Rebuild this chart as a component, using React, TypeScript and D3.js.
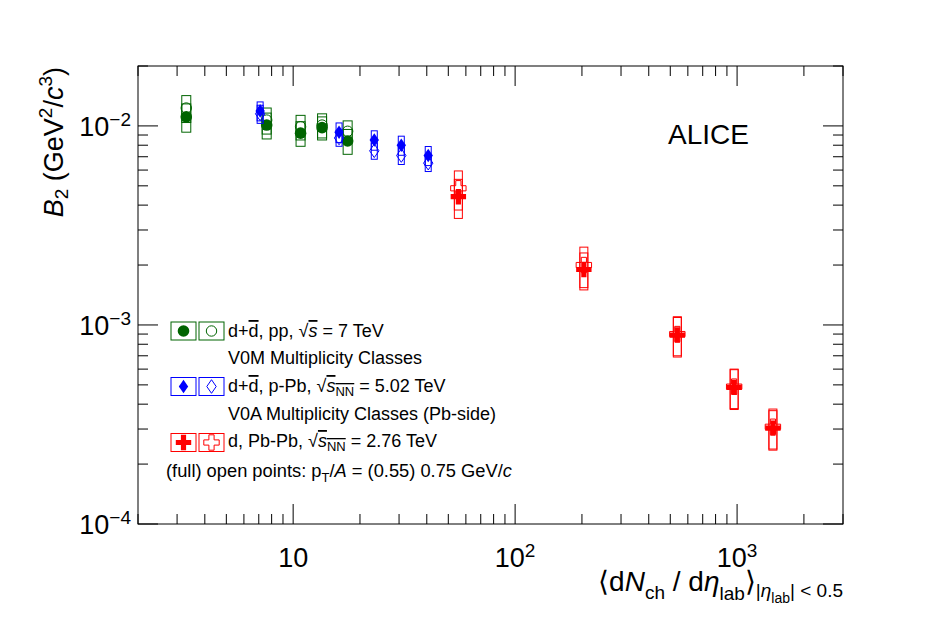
import * as d3 from 'd3';

// pp, sqrt(s) = 7 TeV (V0M classes)
const ppMult = [3.3, 7.6, 10.8, 13.5, 17.6];
const ppB2 = [0.0111, 0.0101, 0.0092, 0.0098, 0.0084];
const ppB2Sys = [0.0018, 0.0015, 0.0013, 0.0013, 0.0012];
const ppB2Open = [0.0123, 0.0107, 0.0099, 0.0101, 0.0094];
const ppB2OpenSys = [0.0019, 0.0016, 0.0014, 0.0014, 0.0012];

// p-Pb, sqrt(sNN) = 5.02 TeV (V0A classes)
const pPbMult = [7.1, 16.1, 23.2, 30.7, 40.6];
const pPbB2 = [0.0119, 0.0093, 0.0085, 0.0080, 0.0071];
const pPbB2Sys = [0.0013, 0.00105, 0.00095, 0.00088, 0.00078];
const pPbB2Open = [0.0115, 0.0087, 0.0075, 0.0071, 0.0065];
const pPbB2OpenSys = [0.0012, 0.0008, 0.0007, 0.0007, 0.0006];

// Pb-Pb, sqrt(sNN) = 2.76 TeV
const PbPbMult = [55.5, 204, 538, 970, 1450];
const PbPbB2 = [0.00441, 0.0019, 0.00089, 0.000486, 0.000303];
const PbPbB2Sys = [0.00098, 0.0004, 0.0002, 0.00011, 0.000068];
const PbPbB2Open = [0.00486, 0.002, 0.0009, 0.00049, 0.000308];
const PbPbB2OpenSys = [0.00108, 0.00046, 0.0002, 0.00011, 0.00007];

const xMajorTicks = [10, 100, 1000];
const xMajorLabels = [['10', ''], ['10', '2'], ['10', '3']];
const yMajorTicks = [1e-2, 1e-3, 1e-4];
const yMajorLabels = [['10', '\u22122'], ['10', '\u22123'], ['10', '\u22124']];

const W = 946;
const H = 622;
const FL = 138, FR = 843, FT = 66, FB = 524;
const FONT = "'Liberation Sans', Arial, Helvetica, sans-serif";

const GREEN = '#006400';
const BLUE = '#0000ff';
const RED = '#ff0000';

const x = d3.scaleLog().domain([2, 3000]).range([FL, FR]);
const y = d3.scaleLog().domain([1e-4, 0.02]).range([FB, FT]);

type Kind = 'circle' | 'diamond' | 'cross';

function Marker({ kind, cx, cy, color, open }: { kind: Kind; cx: number; cy: number; color: string; open: boolean }) {
  const fill = open ? 'none' : color;
  const stroke = open ? color : 'none';
  if (kind === 'circle') {
    return <circle cx={cx} cy={cy} r={open ? 5.2 : 5.8} fill={fill} stroke={stroke} strokeWidth={1} />;
  }
  if (kind === 'diamond') {
    const hw = 4.7, hh = 6.8;
    const d = `M${cx},${cy - hh}L${cx + hw},${cy}L${cx},${cy + hh}L${cx - hw},${cy}Z`;
    return <path d={d} fill={fill} stroke={stroke} strokeWidth={1} />;
  }
  const a = 7.7, t = 2.6;
  const d = `M${cx - t},${cy - a}H${cx + t}V${cy - t}H${cx + a}V${cy + t}H${cx + t}V${cy + a}H${cx - t}V${cy + t}H${cx - a}V${cy - t}H${cx - t}Z`;
  return <path d={d} fill={fill} stroke={stroke} strokeWidth={1} />;
}

function Series({ mult, vals, sys, openVals, openSys, kind, color, hw }: {
  mult: number[]; vals: number[]; sys: number[]; openVals: number[]; openSys: number[];
  kind: Kind; color: string; hw: number;
}) {
  return (
    <g>
      {mult.map((m, i) => (
        <rect key={'os' + i} x={x(m) - hw} width={2 * hw}
          y={y(openVals[i] + openSys[i])} height={y(openVals[i] - openSys[i]) - y(openVals[i] + openSys[i])}
          fill="none" stroke={color} strokeWidth={1} />
      ))}
      {mult.map((m, i) => (
        <rect key={'fs' + i} x={x(m) - hw} width={2 * hw}
          y={y(vals[i] + sys[i])} height={y(vals[i] - sys[i]) - y(vals[i] + sys[i])}
          fill="none" stroke={color} strokeWidth={1} />
      ))}
      {mult.map((m, i) => (
        <Marker key={'om' + i} kind={kind} cx={x(m)} cy={y(openVals[i])} color={color} open />
      ))}
      {mult.map((m, i) => (
        <Marker key={'fm' + i} kind={kind} cx={x(m)} cy={y(vals[i])} color={color} open={false} />
      ))}
    </g>
  );
}

function LegendRow({ yc, kind, color }: { yc: number; kind: Kind; color: string }) {
  return (
    <g>
      <rect x={171} y={yc - 9} width={25} height={18} fill="none" stroke={color} strokeWidth={1} />
      <Marker kind={kind} cx={183.5} cy={yc} color={color} open={false} />
      <rect x={199} y={yc - 9} width={25} height={18} fill="none" stroke={color} strokeWidth={1} />
      <Marker kind={kind} cx={211.5} cy={yc} color={color} open />
    </g>
  );
}

export default function App() {
  const xTicks = x.ticks();
  const yTicks = y.ticks();
  const isMajor = (v: number) => Math.abs(Math.log10(v) - Math.round(Math.log10(v))) < 1e-9;
  const ol = { textDecoration: 'overline' } as const;

  return (
    <svg width={W} height={H} style={{ position: 'absolute', left: 0, top: 0, background: '#fff' }} fontFamily={FONT}>
      {/* ticks on all four sides */}
      {xTicks.map((v, i) => {
        const len = isMajor(v) ? 20 : 10;
        return (
          <g key={'xt' + i} stroke="#000" strokeWidth={1}>
            <line x1={x(v)} x2={x(v)} y1={FB} y2={FB - len} />
            <line x1={x(v)} x2={x(v)} y1={FT} y2={FT + len} />
          </g>
        );
      })}
      {yTicks.map((v, i) => {
        const len = isMajor(v) ? 20 : 10;
        return (
          <g key={'yt' + i} stroke="#000" strokeWidth={1}>
            <line x1={FL} x2={FL + len} y1={y(v)} y2={y(v)} />
            <line x1={FR} x2={FR - len} y1={y(v)} y2={y(v)} />
          </g>
        );
      })}
      <rect x={FL} y={FT} width={FR - FL} height={FB - FT} fill="none" stroke="#000" strokeWidth={1} />

      {/* tick labels */}
      {xMajorTicks.map((v, i) => (
        <text key={'xl' + i} x={x(v)} y={567} textAnchor="middle" fontSize={27}>
          {xMajorLabels[i][0]}
          {xMajorLabels[i][1] && <tspan fontSize={19} dy={-10}>{xMajorLabels[i][1]}</tspan>}
        </text>
      ))}
      {yMajorTicks.map((v, i) => (
        <text key={'yl' + i} x={131} y={y(v) + 10} textAnchor="end" fontSize={27}>
          {yMajorLabels[i][0]}
          <tspan fontSize={19} dy={-10}>{yMajorLabels[i][1]}</tspan>
        </text>
      ))}

      {/* axis titles */}
      <text transform={`translate(63,67) rotate(-90)`} textAnchor="end" fontSize={27}>
        <tspan fontStyle="italic">B</tspan>
        <tspan fontSize={19} dy={5}>2</tspan>
        <tspan dy={-5}> (GeV</tspan>
        <tspan fontSize={19} dy={-11}>2</tspan>
        <tspan dy={11}>/</tspan>
        <tspan fontStyle="italic">c</tspan>
        <tspan fontSize={19} dy={-11}>3</tspan>
        <tspan dy={11}>)</tspan>
      </text>
      <text x={843} y={591} textAnchor="end" fontSize={28}>
        <tspan>{'\u27E8'}d</tspan>
        <tspan fontStyle="italic">N</tspan>
        <tspan fontSize={19} dy={8}>ch</tspan>
        <tspan dy={-8}> / d</tspan>
        <tspan fontStyle="italic">{'\u03B7'}</tspan>
        <tspan fontSize={19} dy={9}>lab</tspan>
        <tspan dy={-9}>{'\u27E9'}</tspan>
        <tspan fontSize={19} dy={6}>|</tspan>
        <tspan fontSize={19} fontStyle="italic">{'\u03B7'}</tspan>
        <tspan fontSize={14} dy={6}>lab</tspan>
        <tspan fontSize={19} dy={-6}>| &lt; 0.5</tspan>
      </text>

      {/* data */}
      <Series mult={ppMult} vals={ppB2} sys={ppB2Sys} openVals={ppB2Open} openSys={ppB2OpenSys} kind="circle" color={GREEN} hw={4.5} />
      <Series mult={pPbMult} vals={pPbB2} sys={pPbB2Sys} openVals={pPbB2Open} openSys={pPbB2OpenSys} kind="diamond" color={BLUE} hw={3} />
      <Series mult={PbPbMult} vals={PbPbB2} sys={PbPbB2Sys} openVals={PbPbB2Open} openSys={PbPbB2OpenSys} kind="cross" color={RED} hw={4} />

      <text x={668} y={144} fontSize={28}>ALICE</text>

      {/* legend */}
      <LegendRow yc={331} kind="circle" color={GREEN} />
      <LegendRow yc={386.5} kind="diamond" color={BLUE} />
      <LegendRow yc={442.5} kind="cross" color={RED} />
      <g fontSize={18}>
        <text x={228} y={337}>
          d+<tspan style={ol}>d</tspan>, pp, {'\u221A'}<tspan fontStyle="italic" style={ol}>s</tspan> = 7 TeV
        </text>
        <text x={228} y={364}>V0M Multiplicity Classes</text>
        <text x={228} y={392}>
          d+<tspan style={ol}>d</tspan>, p-Pb, {'\u221A'}<tspan fontStyle="italic" style={ol}>s</tspan>
          <tspan fontSize={13} dy={4} style={ol}>NN</tspan>
          <tspan dy={-4}> = 5.02 TeV</tspan>
        </text>
        <text x={228} y={420}>V0A Multiplicity Classes (Pb-side)</text>
        <text x={228} y={447}>
          d, Pb-Pb, {'\u221A'}<tspan fontStyle="italic" style={ol}>s</tspan>
          <tspan fontSize={13} dy={4} style={ol}>NN</tspan>
          <tspan dy={-4}> = 2.76 TeV</tspan>
        </text>
        <text x={166} y={477} fontSize={18.3}>
          (full) open points: p<tspan fontSize={13} dy={5}>T</tspan>
          <tspan dy={-5}>/</tspan><tspan fontStyle="italic">A</tspan> = (0.55) 0.75 GeV/<tspan fontStyle="italic">c</tspan>
        </text>
      </g>
    </svg>
  );
}
